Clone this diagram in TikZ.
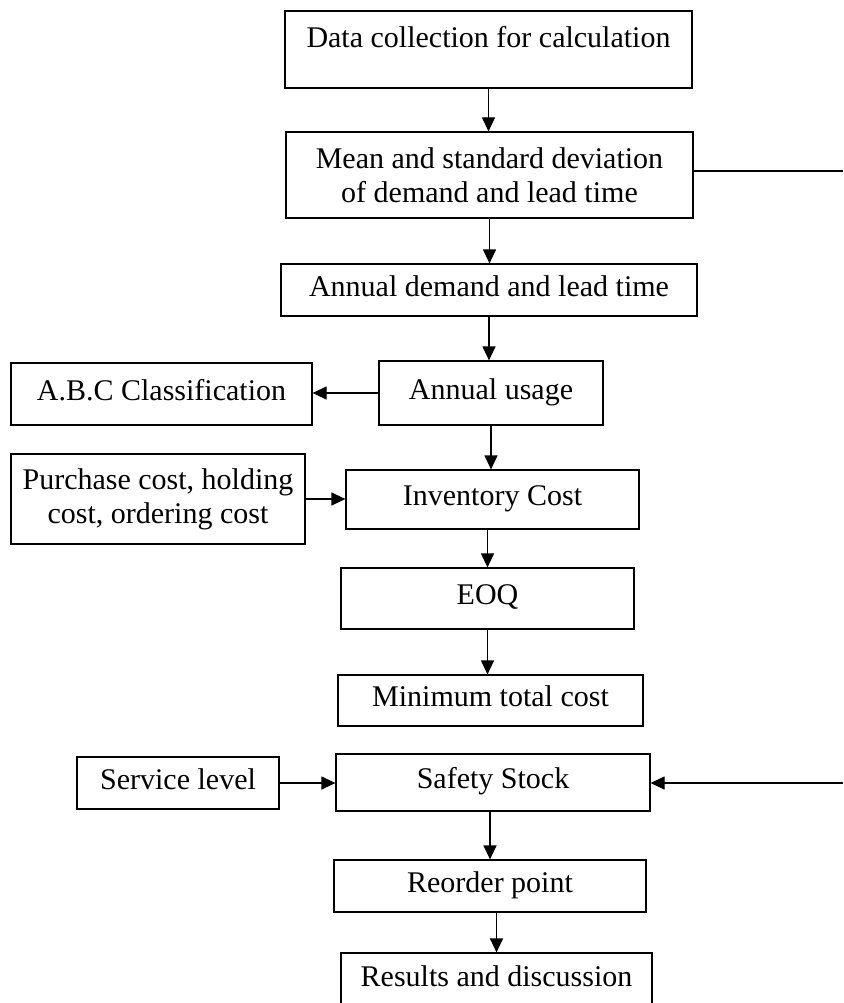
\documentclass[tikz,border=0pt]{standalone}
\usepackage{fontspec}
\setmainfont{Liberation Serif}
\usepackage{tikz}
\usetikzlibrary{arrows.meta}
\usetikzlibrary{calc}

\begin{document}
\begin{tikzpicture}[x=1pt,y=-1pt]
        \newcommand{\figflowrightedge}{843}
        \newcommand{\figflowlinewidth}{1.2pt}
        \newcommand{\figflowtopliney}{171}
        \newcommand{\figflowbotliney}{783}
        \tikzset{
            flowbox/.style={draw,line width=\figflowlinewidth,inner sep=0pt,font=\fontsize{30}{34}\selectfont},
            oneline/.style={flowbox,text height=21pt,text depth=9pt},
            twoline/.style={flowbox,align=center},
            flowarrow/.style={line width=\figflowlinewidth,-{Triangle[length=14pt,width=13pt]}}
        }
        \useasboundingbox (0,0) rectangle (843,1003);
        \node[oneline,minimum width=407pt,minimum height=77pt,text depth=24pt] (datacoll) at (488.5,49.5) {Data collection for calculation};
        \node[twoline,minimum width=407pt,minimum height=86pt] (meanstd) at (489.5,175) {Mean and standard deviation\\of demand and lead time};
        \node[oneline,minimum width=416pt,minimum height=52pt] (annualdem) at (489,290) {Annual demand and lead time};
        \node[oneline,minimum width=224pt,minimum height=64pt] (annualuse) at (491,393) {Annual usage};
        \node[oneline,minimum width=301pt,minimum height=62pt] (abcclass) at (161.5,394) {A.B.C Classification};
        \node[twoline,minimum width=294pt,minimum height=90pt] (costinput) at (158,499) {Purchase cost, holding\\cost, ordering cost};
        \node[oneline,minimum width=293pt,minimum height=59pt] (invcost) at (492.5,499.5) {Inventory Cost};
        \node[oneline,minimum width=293pt,minimum height=61pt] (eoq) at (487.5,598.5) {EOQ};
        \node[oneline,minimum width=305pt,minimum height=51pt] (mincost) at (490.5,700.5) {Minimum total cost};
        \node[oneline,minimum width=202pt,minimum height=52pt] (servlevel) at (178,783) {Service level};
        \node[oneline,minimum width=314pt,minimum height=57pt] (safetystock) at (493,782.5) {Safety Stock};
        \node[oneline,minimum width=312pt,minimum height=52pt] (reorder) at (490,886) {Reorder point};
        \node[oneline,minimum width=311pt,minimum height=54pt] (results) at (496.5,980) {Results and discussion};
        \coordinate (topright) at (\figflowrightedge,\figflowtopliney);
        \coordinate (botright) at (\figflowrightedge,\figflowbotliney);
        % main column
        \draw[flowarrow] (datacoll.south) -- (datacoll.south |- meanstd.north);
        \draw[flowarrow] (meanstd.south) -- (meanstd.south |- annualdem.north);
        \draw[flowarrow] (annualdem.south) -- (annualdem.south |- annualuse.north);
        \draw[flowarrow] (annualuse.south) -- (annualuse.south |- invcost.north);
        \draw[flowarrow] (eoq.north |- invcost.south) -- (eoq.north);
        \draw[flowarrow] (eoq.south) -- (eoq.south |- mincost.north);
        \draw[flowarrow] (reorder.north |- safetystock.south) -- (reorder.north);
        \draw[flowarrow] (results.north |- reorder.south) -- (results.north);
        % side inputs
        \draw[flowarrow] (annualuse.west) -- (annualuse.west -| abcclass.east);
        \draw[flowarrow] (costinput.east) -- (costinput.east -| invcost.west);
        \draw[flowarrow] (servlevel.east) -- (servlevel.east -| safetystock.west);
        \draw[line width=\figflowlinewidth] (meanstd.east |- topright) -- (topright);
        \draw[flowarrow] (botright) -- (botright -| safetystock.east);
    \end{tikzpicture}
\end{document}
